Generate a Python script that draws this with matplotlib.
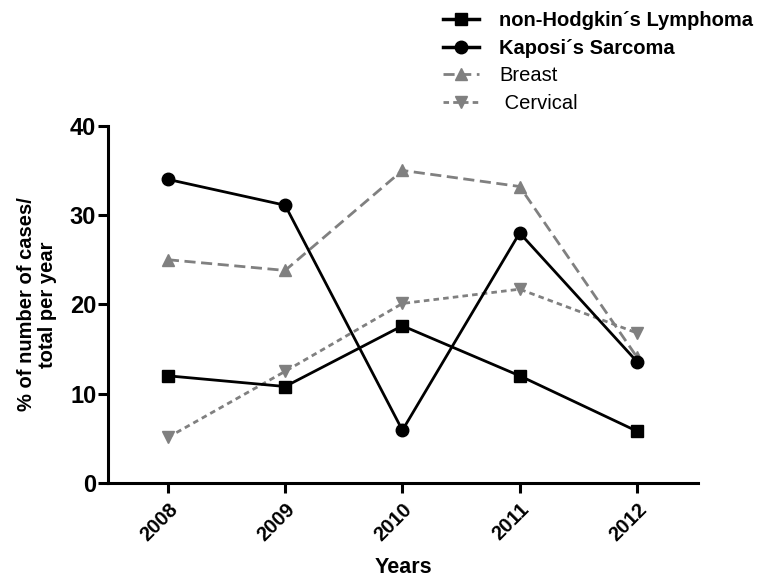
import matplotlib
matplotlib.use("Agg")
import matplotlib.pyplot as plt
from matplotlib.lines import Line2D

plt.rcParams['font.family'] = ['Liberation Sans', 'DejaVu Sans']

years = [2008, 2009, 2010, 2011, 2012]
nhl = [12.0, 10.8, 17.6, 12.0, 5.8]
kaposi = [34.0, 31.1, 5.9, 28.0, 13.6]
breast = [25.0, 23.8, 35.0, 33.2, 14.1]
cervical = [5.1, 12.5, 20.1, 21.7, 16.8]
labels = ["non-Hodgkin´s Lymphoma", "Kaposi´s Sarcoma", "Breast", " Cervical"]

fig = plt.figure(figsize=(7.72, 5.77), dpi=100)
ax = fig.add_axes([0.140, 0.163, 0.764, 0.619])

gray = '#808080'
ax.plot(years, nhl, color='black', lw=2, marker='s', ms=9, clip_on=False, zorder=5)
ax.plot(years, kaposi, color='black', lw=2, marker='o', ms=9, clip_on=False, zorder=5)
ax.plot(years, breast, color=gray, lw=2, ls=(0, (4, 2)), marker='^', ms=9, clip_on=False, zorder=4)
ax.plot(years, cervical, color=gray, lw=2, ls=(0, (2, 1.5)), marker='v', ms=9, clip_on=False, zorder=4)

ax.set_xlim(2007.49, 2012.52)
ax.set_ylim(0, 40)
ax.set_yticks([0, 10, 20, 30, 40])
ax.set_xticks(years)
ax.set_xticklabels([str(y) for y in years], rotation=45, ha='right', rotation_mode='anchor',
                   fontsize=14.5, fontweight='bold')
for t in ax.get_yticklabels():
    t.set_fontsize(17)
    t.set_fontweight('bold')
for s in ['top', 'right']:
    ax.spines[s].set_visible(False)
for s in ['left', 'bottom']:
    ax.spines[s].set_linewidth(2.2)
ax.tick_params(width=2.2, length=7)
ax.tick_params(axis='x', pad=5)
ax.tick_params(axis='y', pad=1.5)

ax.set_xlabel("Years", fontsize=15.5, fontweight='bold', labelpad=9)
ax.set_ylabel("% of number of cases/\ntotal per year", fontsize=14.5, fontweight='bold',
              labelpad=9, linespacing=1.15)

handles = [
    Line2D([], [], color='black', lw=2.5, marker='s', ms=9),
    Line2D([], [], color='black', lw=2.5, marker='o', ms=9),
    Line2D([], [], color=gray, lw=2, ls=(0, (4, 2)), marker='^', ms=9),
    Line2D([], [], color=gray, lw=2, ls=(0, (2, 1.5)), marker='v', ms=9),
]
leg = fig.legend(handles, labels, loc='upper left', bbox_to_anchor=(0.555, 1.005),
                 frameon=False, fontsize=14.5, handlelength=1.8, labelspacing=0.42,
                 handletextpad=1.0, borderaxespad=0.3)
for i, t in enumerate(leg.get_texts()):
    if i < 2:
        t.set_fontweight('bold')

fig.savefig("out.png", dpi=100)
